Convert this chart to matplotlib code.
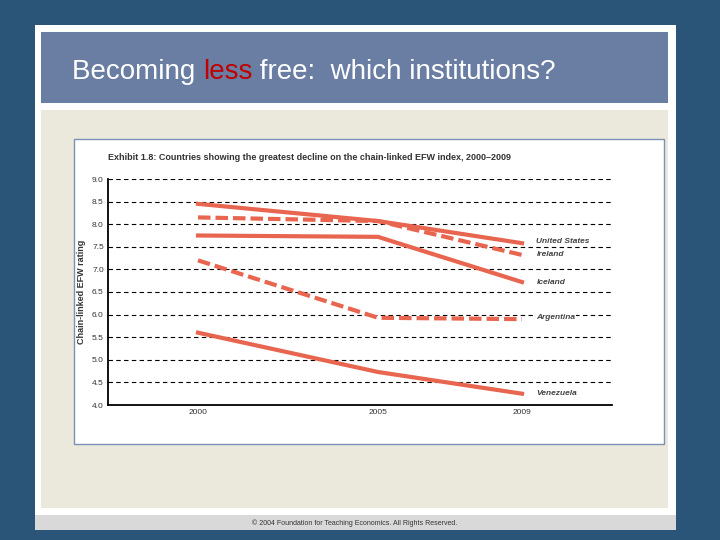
import matplotlib.pyplot as plt
from matplotlib.patches import Rectangle

years = [2000, 2005, 2009]
countries = ["United States", "Ireland", "Iceland", "Argentina", "Venezuela"]
values = {
    "United States": [8.45, 8.07, 7.58],
    "Ireland": [8.15, 8.07, 7.32],
    "Iceland": [7.75, 7.72, 6.72],
    "Argentina": [7.2, 5.93, 5.9],
    "Venezuela": [5.6, 4.73, 4.25],
}
dashed = {"Ireland", "Argentina"}
label_y = {"United States": 7.62, "Ireland": 7.32, "Iceland": 6.72,
           "Argentina": 5.94, "Venezuela": 4.25}
yticks = [4.0, 4.5, 5.0, 5.5, 6.0, 6.5, 7.0, 7.5, 8.0, 8.5, 9.0]

plt.rcParams['font.family'] = ['Liberation Sans', 'DejaVu Sans']

W, H = 720, 540
fig = plt.figure(figsize=(7.2, 5.4), dpi=100)
fig.patch.set_facecolor("#2b5578")

def box(x, y, w, h, fc, ec="none", lw=0):
    fig.patches.append(Rectangle((x / W, 1 - (y + h) / H), w / W, h / H,
                                 transform=fig.transFigure, facecolor=fc,
                                 edgecolor=ec, linewidth=lw, zorder=0))

box(35, 25, 641, 505, "white")
box(41, 32, 627, 71, "#6a7ea3")
box(41, 110, 627, 398, "#eae9dc")
box(35, 515, 641, 15, "#d9d9d9")
box(74, 139, 590, 305, "white", ec="#7f8fb5", lw=1)

t1 = fig.text(72 / W, 1 - 72 / H, "Becoming ", fontsize=20, color="white", va="center")
fig.canvas.draw()
bb = t1.get_window_extent()
t2 = fig.text(bb.x1 / W, 1 - 72 / H, "less", fontsize=20, color="#c00000", va="center")
bb2 = t2.get_window_extent()
fig.text(bb2.x1 / W, 1 - 72 / H, " free:  which institutions?",
         fontsize=20, color="white", va="center")

fig.text(108 / W, 1 - 157 / H,
         "Exhibit 1.8: Countries showing the greatest decline on the chain-linked EFW index, 2000\u20132009",
         fontsize=6.5, fontweight="bold", color="#333333", va="center")
fig.text(355 / W, 1 - 523 / H,
         "\u00a9 2004 Foundation for Teaching Economics. All Rights Reserved.",
         fontsize=5, color="#333333", ha="center", va="center")

ax = fig.add_axes([108 / W, 1 - 405 / H, 504 / W, 226 / H])
ax.set_zorder(5)
ax.patch.set_alpha(0)
ax.set_xlim(1997.5, 2011.5)
ax.set_ylim(4.0, 9.0)
for s in ["top", "right"]:
    ax.spines[s].set_visible(False)
ax.spines["left"].set_linewidth(1.3)
ax.spines["bottom"].set_linewidth(1.3)
ax.set_yticks(yticks)
ax.set_yticklabels([f"{v:.1f}" for v in yticks], fontsize=6, color="#333333")
ax.set_xticks(years)
ax.set_xticklabels([str(y) for y in years], fontsize=6, color="#333333")
ax.tick_params(length=0, pad=3)
for v in yticks[1:]:
    ax.axhline(v, color="black", linestyle=(0, (4, 3)), linewidth=0.8, zorder=1)
ax.set_ylabel("Chain-linked EFW rating", fontsize=6.5, fontweight="bold", color="#333333")

for c in countries:
    ls = (0, (3, 1.2)) if c in dashed else "-"
    ax.plot(years, values[c], color="#e8654f", linewidth=3, linestyle=ls, zorder=3)
    ax.text(2009.4, label_y[c], c, fontsize=6, fontstyle="italic",
            fontweight="bold", color="#444444", va="center",
            bbox=dict(facecolor="white", edgecolor="none", pad=0.5), zorder=4)

fig.savefig("out.png", dpi=100, facecolor=fig.get_facecolor())
